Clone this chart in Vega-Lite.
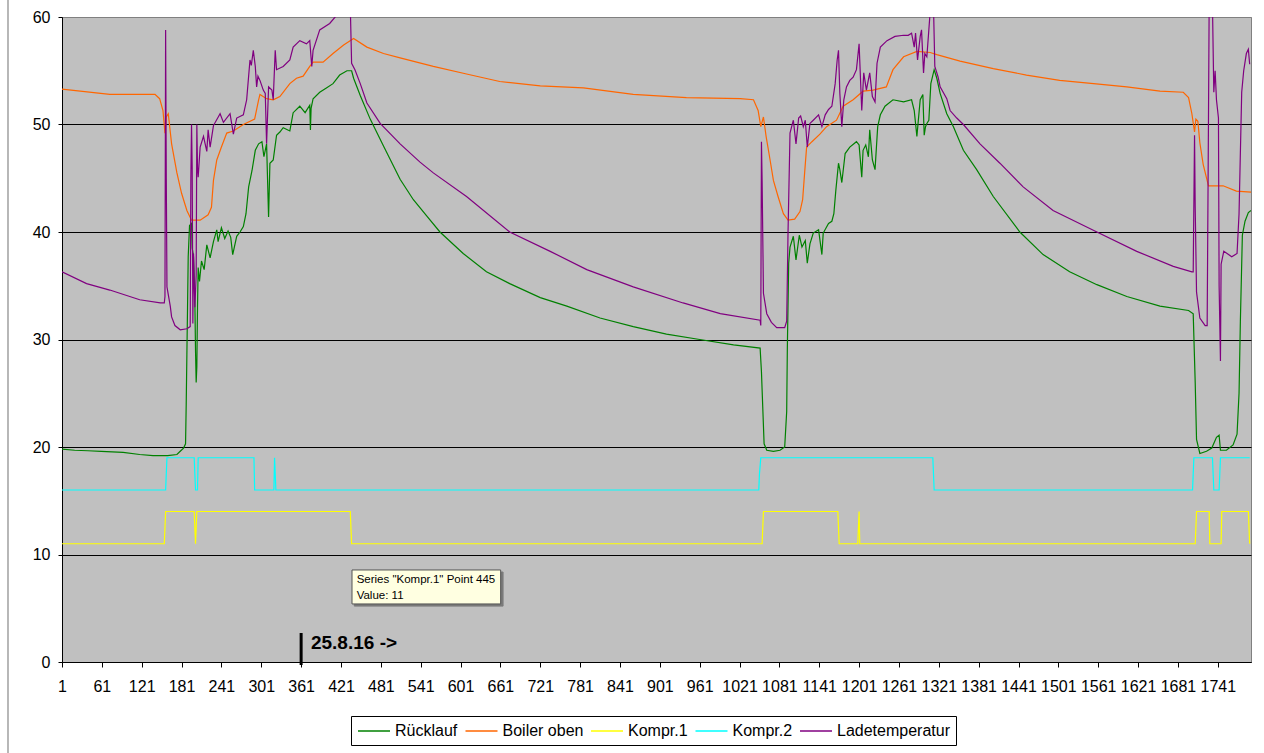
{
"$schema": "https://vega.github.io/schema/vega-lite/v6.json",
"width": 1189, "height": 645,
"autosize": {"type": "none"},
"padding": {"left": 62, "top": 17, "right": 13, "bottom": 91},
"background": "white",
"config": {"view": {"stroke": "#808080", "fill": "#C0C0C0", "strokeWidth": 1}, "font": "Liberation Sans"},
"datasets": {
"series": [
{"s":"Rücklauf","p":1,"v":19.8},{"s":"Rücklauf","p":20,"v":19.7},{"s":"Rücklauf","p":40,"v":19.65},{"s":"Rücklauf","p":60,"v":19.6},{"s":"Rücklauf","p":93,"v":19.5},{"s":"Rücklauf","p":118,"v":19.3},{"s":"Rücklauf","p":138,"v":19.2},{"s":"Rücklauf","p":160,"v":19.2},{"s":"Rücklauf","p":174,"v":19.3},{"s":"Rücklauf","p":179,"v":19.6},{"s":"Rücklauf","p":184,"v":19.9},{"s":"Rücklauf","p":187,"v":20.3},{"s":"Rücklauf","p":188,"v":24},{"s":"Rücklauf","p":189,"v":28.6},{"s":"Rücklauf","p":190,"v":33},{"s":"Rücklauf","p":191,"v":37.7},{"s":"Rücklauf","p":193,"v":40.6},{"s":"Rücklauf","p":196,"v":40.8},{"s":"Rücklauf","p":197,"v":38.5},{"s":"Rücklauf","p":199,"v":37.7},{"s":"Rücklauf","p":201,"v":33.7},{"s":"Rücklauf","p":202,"v":29},{"s":"Rücklauf","p":203,"v":26},{"s":"Rücklauf","p":204,"v":27.5},{"s":"Rücklauf","p":205,"v":33},{"s":"Rücklauf","p":206,"v":36.7},{"s":"Rücklauf","p":208,"v":35.4},{"s":"Rücklauf","p":211,"v":37.3},{"s":"Rücklauf","p":215,"v":36.5},{"s":"Rücklauf","p":219,"v":38.8},{"s":"Rücklauf","p":224,"v":37.6},{"s":"Rücklauf","p":229,"v":39.1},{"s":"Rücklauf","p":234,"v":40.2},{"s":"Rücklauf","p":236,"v":39.1},{"s":"Rücklauf","p":241,"v":40.4},{"s":"Rücklauf","p":246,"v":39.4},{"s":"Rücklauf","p":251,"v":40.1},{"s":"Rücklauf","p":255,"v":39.5},{"s":"Rücklauf","p":258,"v":37.9},{"s":"Rücklauf","p":264,"v":39.6},{"s":"Rücklauf","p":269,"v":40.0},{"s":"Rücklauf","p":274,"v":40.5},{"s":"Rücklauf","p":278,"v":41.7},{"s":"Rücklauf","p":282,"v":44.2},{"s":"Rücklauf","p":287,"v":45.7},{"s":"Rücklauf","p":292,"v":47.6},{"s":"Rücklauf","p":297,"v":48.2},{"s":"Rücklauf","p":302,"v":48.4},{"s":"Rücklauf","p":305,"v":47},{"s":"Rücklauf","p":309,"v":48.2},{"s":"Rücklauf","p":312,"v":41.4},{"s":"Rücklauf","p":314,"v":46.4},{"s":"Rücklauf","p":319,"v":46.7},{"s":"Rücklauf","p":324,"v":49.0},{"s":"Rücklauf","p":329,"v":49.3},{"s":"Rücklauf","p":334,"v":49.7},{"s":"Rücklauf","p":344,"v":49.4},{"s":"Rücklauf","p":349,"v":51.1},{"s":"Rücklauf","p":359,"v":51.7},{"s":"Rücklauf","p":367,"v":51.1},{"s":"Rücklauf","p":374,"v":51.8},{"s":"Rücklauf","p":375,"v":49.5},{"s":"Rücklauf","p":376,"v":51.5},{"s":"Rücklauf","p":379,"v":52.4},{"s":"Rücklauf","p":389,"v":53.0},{"s":"Rücklauf","p":399,"v":53.4},{"s":"Rücklauf","p":409,"v":53.8},{"s":"Rücklauf","p":419,"v":54.6},{"s":"Rücklauf","p":430,"v":55.0},{"s":"Rücklauf","p":437,"v":55.0},{"s":"Rücklauf","p":440,"v":54.3},{"s":"Rücklauf","p":450,"v":52.7},{"s":"Rücklauf","p":465,"v":50.5},{"s":"Rücklauf","p":485,"v":48.0},{"s":"Rücklauf","p":510,"v":44.9},{"s":"Rücklauf","p":530,"v":43.0},{"s":"Rücklauf","p":550,"v":41.5},{"s":"Rücklauf","p":570,"v":40.0},{"s":"Rücklauf","p":605,"v":38.0},{"s":"Rücklauf","p":640,"v":36.3},{"s":"Rücklauf","p":675,"v":35.2},{"s":"Rücklauf","p":721,"v":33.9},{"s":"Rücklauf","p":761,"v":33.1},{"s":"Rücklauf","p":811,"v":32.0},{"s":"Rücklauf","p":861,"v":31.2},{"s":"Rücklauf","p":911,"v":30.5},{"s":"Rücklauf","p":961,"v":30.0},{"s":"Rücklauf","p":1012,"v":29.5},{"s":"Rücklauf","p":1052,"v":29.2},{"s":"Rücklauf","p":1054,"v":27},{"s":"Rücklauf","p":1055,"v":25.3},{"s":"Rücklauf","p":1058,"v":20.3},{"s":"Rücklauf","p":1062,"v":19.7},{"s":"Rücklauf","p":1072,"v":19.6},{"s":"Rücklauf","p":1082,"v":19.7},{"s":"Rücklauf","p":1089,"v":20.0},{"s":"Rücklauf","p":1092,"v":23.3},{"s":"Rücklauf","p":1093,"v":29.3},{"s":"Rücklauf","p":1095,"v":37.1},{"s":"Rücklauf","p":1097,"v":38.6},{"s":"Rücklauf","p":1102,"v":39.6},{"s":"Rücklauf","p":1106,"v":37.4},{"s":"Rücklauf","p":1111,"v":39.7},{"s":"Rücklauf","p":1115,"v":38.6},{"s":"Rücklauf","p":1120,"v":39.2},{"s":"Rücklauf","p":1123,"v":37.1},{"s":"Rücklauf","p":1127,"v":38.9},{"s":"Rücklauf","p":1132,"v":39.9},{"s":"Rücklauf","p":1140,"v":40.2},{"s":"Rücklauf","p":1145,"v":37.9},{"s":"Rücklauf","p":1147,"v":39.9},{"s":"Rücklauf","p":1155,"v":40.8},{"s":"Rücklauf","p":1160,"v":41.0},{"s":"Rücklauf","p":1163,"v":41.7},{"s":"Rücklauf","p":1166,"v":43.9},{"s":"Rücklauf","p":1170,"v":46.4},{"s":"Rücklauf","p":1172,"v":45.8},{"s":"Rücklauf","p":1175,"v":44.6},{"s":"Rücklauf","p":1180,"v":47.3},{"s":"Rücklauf","p":1187,"v":47.9},{"s":"Rücklauf","p":1197,"v":48.4},{"s":"Rücklauf","p":1201,"v":48.1},{"s":"Rücklauf","p":1205,"v":45.1},{"s":"Rücklauf","p":1207,"v":47.6},{"s":"Rücklauf","p":1211,"v":48.1},{"s":"Rücklauf","p":1215,"v":47.0},{"s":"Rücklauf","p":1217,"v":49.5},{"s":"Rücklauf","p":1221,"v":46.7},{"s":"Rücklauf","p":1225,"v":45.8},{"s":"Rücklauf","p":1229,"v":49.8},{"s":"Rücklauf","p":1233,"v":50.9},{"s":"Rücklauf","p":1240,"v":51.7},{"s":"Rücklauf","p":1252,"v":52.3},{"s":"Rücklauf","p":1268,"v":52.1},{"s":"Rücklauf","p":1280,"v":52.3},{"s":"Rücklauf","p":1284,"v":51.3},{"s":"Rücklauf","p":1288,"v":48.9},{"s":"Rücklauf","p":1293,"v":52.3},{"s":"Rücklauf","p":1297,"v":52.8},{"s":"Rücklauf","p":1299,"v":49.0},{"s":"Rücklauf","p":1301,"v":49.8},{"s":"Rücklauf","p":1303,"v":50.1},{"s":"Rücklauf","p":1306,"v":50.4},{"s":"Rücklauf","p":1309,"v":53.8},{"s":"Rücklauf","p":1314,"v":55.1},{"s":"Rücklauf","p":1318,"v":54.3},{"s":"Rücklauf","p":1323,"v":52.9},{"s":"Rücklauf","p":1333,"v":51.0},{"s":"Rücklauf","p":1343,"v":49.8},{"s":"Rücklauf","p":1358,"v":47.6},{"s":"Rücklauf","p":1378,"v":45.8},{"s":"Rücklauf","p":1403,"v":43.3},{"s":"Rücklauf","p":1443,"v":40.0},{"s":"Rücklauf","p":1478,"v":37.9},{"s":"Rücklauf","p":1518,"v":36.3},{"s":"Rücklauf","p":1559,"v":35.1},{"s":"Rücklauf","p":1604,"v":34.0},{"s":"Rücklauf","p":1654,"v":33.1},{"s":"Rücklauf","p":1697,"v":32.7},{"s":"Rücklauf","p":1704,"v":32.4},{"s":"Rücklauf","p":1707,"v":26.0},{"s":"Rücklauf","p":1709,"v":20.7},{"s":"Rücklauf","p":1714,"v":19.4},{"s":"Rücklauf","p":1724,"v":19.6},{"s":"Rücklauf","p":1732,"v":19.9},{"s":"Rücklauf","p":1739,"v":20.9},{"s":"Rücklauf","p":1743,"v":21.1},{"s":"Rücklauf","p":1745,"v":19.7},{"s":"Rücklauf","p":1754,"v":19.7},{"s":"Rücklauf","p":1764,"v":20.2},{"s":"Rücklauf","p":1770,"v":21.2},{"s":"Rücklauf","p":1773,"v":25.0},{"s":"Rücklauf","p":1775,"v":31.7},{"s":"Rücklauf","p":1778,"v":39.7},{"s":"Rücklauf","p":1782,"v":41.0},{"s":"Rücklauf","p":1787,"v":41.8},{"s":"Rücklauf","p":1791,"v":42.0},

{"s":"Boiler oben","p":1,"v":53.3},{"s":"Boiler oben","p":73,"v":52.8},{"s":"Boiler oben","p":141,"v":52.8},{"s":"Boiler oben","p":148,"v":52.4},{"s":"Boiler oben","p":153,"v":51.3},{"s":"Boiler oben","p":156,"v":49.2},{"s":"Boiler oben","p":158,"v":50.7},{"s":"Boiler oben","p":161,"v":51.0},{"s":"Boiler oben","p":166,"v":48.2},{"s":"Boiler oben","p":174,"v":45.5},{"s":"Boiler oben","p":181,"v":43.6},{"s":"Boiler oben","p":189,"v":42.0},{"s":"Boiler oben","p":196,"v":41.1},{"s":"Boiler oben","p":209,"v":41.1},{"s":"Boiler oben","p":221,"v":41.6},{"s":"Boiler oben","p":226,"v":42.3},{"s":"Boiler oben","p":229,"v":44.8},{"s":"Boiler oben","p":234,"v":46.7},{"s":"Boiler oben","p":241,"v":47.9},{"s":"Boiler oben","p":249,"v":49.2},{"s":"Boiler oben","p":259,"v":49.4},{"s":"Boiler oben","p":274,"v":50.0},{"s":"Boiler oben","p":291,"v":50.5},{"s":"Boiler oben","p":297,"v":52.3},{"s":"Boiler oben","p":299,"v":52.8},{"s":"Boiler oben","p":309,"v":52.4},{"s":"Boiler oben","p":319,"v":52.3},{"s":"Boiler oben","p":329,"v":52.6},{"s":"Boiler oben","p":344,"v":53.8},{"s":"Boiler oben","p":354,"v":54.3},{"s":"Boiler oben","p":364,"v":54.5},{"s":"Boiler oben","p":374,"v":55.4},{"s":"Boiler oben","p":379,"v":55.8},{"s":"Boiler oben","p":394,"v":55.8},{"s":"Boiler oben","p":409,"v":56.6},{"s":"Boiler oben","p":425,"v":57.4},{"s":"Boiler oben","p":440,"v":58.0},{"s":"Boiler oben","p":460,"v":57.2},{"s":"Boiler oben","p":485,"v":56.6},{"s":"Boiler oben","p":510,"v":56.2},{"s":"Boiler oben","p":560,"v":55.4},{"s":"Boiler oben","p":610,"v":54.7},{"s":"Boiler oben","p":660,"v":54.0},{"s":"Boiler oben","p":721,"v":53.6},{"s":"Boiler oben","p":786,"v":53.4},{"s":"Boiler oben","p":861,"v":52.8},{"s":"Boiler oben","p":941,"v":52.5},{"s":"Boiler oben","p":1022,"v":52.4},{"s":"Boiler oben","p":1042,"v":52.3},{"s":"Boiler oben","p":1049,"v":51.3},{"s":"Boiler oben","p":1053,"v":49.8},{"s":"Boiler oben","p":1057,"v":50.7},{"s":"Boiler oben","p":1061,"v":48.9},{"s":"Boiler oben","p":1067,"v":46.7},{"s":"Boiler oben","p":1072,"v":44.8},{"s":"Boiler oben","p":1079,"v":43.3},{"s":"Boiler oben","p":1087,"v":41.7},{"s":"Boiler oben","p":1094,"v":41.1},{"s":"Boiler oben","p":1104,"v":41.2},{"s":"Boiler oben","p":1112,"v":41.9},{"s":"Boiler oben","p":1116,"v":43.0},{"s":"Boiler oben","p":1119,"v":45.5},{"s":"Boiler oben","p":1122,"v":47.9},{"s":"Boiler oben","p":1130,"v":48.4},{"s":"Boiler oben","p":1142,"v":49.1},{"s":"Boiler oben","p":1152,"v":49.8},{"s":"Boiler oben","p":1167,"v":50.4},{"s":"Boiler oben","p":1177,"v":51.7},{"s":"Boiler oben","p":1192,"v":52.3},{"s":"Boiler oben","p":1207,"v":53.1},{"s":"Boiler oben","p":1222,"v":53.2},{"s":"Boiler oben","p":1242,"v":53.5},{"s":"Boiler oben","p":1252,"v":55.1},{"s":"Boiler oben","p":1268,"v":56.3},{"s":"Boiler oben","p":1288,"v":56.8},{"s":"Boiler oben","p":1308,"v":56.7},{"s":"Boiler oben","p":1318,"v":56.5},{"s":"Boiler oben","p":1353,"v":55.9},{"s":"Boiler oben","p":1403,"v":55.2},{"s":"Boiler oben","p":1453,"v":54.6},{"s":"Boiler oben","p":1503,"v":54.1},{"s":"Boiler oben","p":1554,"v":53.8},{"s":"Boiler oben","p":1604,"v":53.5},{"s":"Boiler oben","p":1654,"v":53.1},{"s":"Boiler oben","p":1689,"v":53.0},{"s":"Boiler oben","p":1697,"v":52.5},{"s":"Boiler oben","p":1702,"v":51.0},{"s":"Boiler oben","p":1706,"v":49.3},{"s":"Boiler oben","p":1708,"v":50.5},{"s":"Boiler oben","p":1711,"v":50.3},{"s":"Boiler oben","p":1714,"v":48.3},{"s":"Boiler oben","p":1719,"v":46.3},{"s":"Boiler oben","p":1727,"v":44.3},{"s":"Boiler oben","p":1739,"v":44.3},{"s":"Boiler oben","p":1749,"v":44.3},{"s":"Boiler oben","p":1769,"v":43.8},{"s":"Boiler oben","p":1791,"v":43.7},

{"s":"Kompr.1","p":1,"v":11},{"s":"Kompr.1","p":155,"v":11},{"s":"Kompr.1","p":156,"v":12.5},{"s":"Kompr.1","p":157,"v":14},{"s":"Kompr.1","p":200,"v":14},{"s":"Kompr.1","p":201,"v":12.5},{"s":"Kompr.1","p":202,"v":11},{"s":"Kompr.1","p":203,"v":12.5},{"s":"Kompr.1","p":204,"v":14},{"s":"Kompr.1","p":435,"v":14},{"s":"Kompr.1","p":436,"v":12.5},{"s":"Kompr.1","p":437,"v":11},{"s":"Kompr.1","p":1055,"v":11},{"s":"Kompr.1","p":1056,"v":12.5},{"s":"Kompr.1","p":1057,"v":14},{"s":"Kompr.1","p":1169,"v":14},{"s":"Kompr.1","p":1170,"v":12.5},{"s":"Kompr.1","p":1171,"v":11},{"s":"Kompr.1","p":1199,"v":11},{"s":"Kompr.1","p":1200,"v":12.5},{"s":"Kompr.1","p":1201,"v":14},{"s":"Kompr.1","p":1202,"v":11},{"s":"Kompr.1","p":1707,"v":11},{"s":"Kompr.1","p":1708,"v":12.5},{"s":"Kompr.1","p":1709,"v":14},{"s":"Kompr.1","p":1728,"v":14},{"s":"Kompr.1","p":1729,"v":11},{"s":"Kompr.1","p":1746,"v":11},{"s":"Kompr.1","p":1747,"v":14},{"s":"Kompr.1","p":1787,"v":14},{"s":"Kompr.1","p":1788,"v":12.5},{"s":"Kompr.1","p":1789,"v":11},

{"s":"Kompr.2","p":1,"v":16},{"s":"Kompr.2","p":157,"v":16},{"s":"Kompr.2","p":158,"v":17.5},{"s":"Kompr.2","p":159,"v":19},{"s":"Kompr.2","p":200,"v":19},{"s":"Kompr.2","p":201,"v":17.5},{"s":"Kompr.2","p":202,"v":16},{"s":"Kompr.2","p":205,"v":16},{"s":"Kompr.2","p":206,"v":19},{"s":"Kompr.2","p":290,"v":19},{"s":"Kompr.2","p":291,"v":16},{"s":"Kompr.2","p":320,"v":16},{"s":"Kompr.2","p":321,"v":19},{"s":"Kompr.2","p":322,"v":17.5},{"s":"Kompr.2","p":323,"v":16},{"s":"Kompr.2","p":1050,"v":16},{"s":"Kompr.2","p":1051,"v":17.5},{"s":"Kompr.2","p":1053,"v":19},{"s":"Kompr.2","p":1312,"v":19},{"s":"Kompr.2","p":1313,"v":17.5},{"s":"Kompr.2","p":1314,"v":16},{"s":"Kompr.2","p":1703,"v":16},{"s":"Kompr.2","p":1704,"v":17.5},{"s":"Kompr.2","p":1705,"v":19},{"s":"Kompr.2","p":1733,"v":19},{"s":"Kompr.2","p":1734,"v":17.5},{"s":"Kompr.2","p":1735,"v":16},{"s":"Kompr.2","p":1743,"v":16},{"s":"Kompr.2","p":1744,"v":17.5},{"s":"Kompr.2","p":1745,"v":19},{"s":"Kompr.2","p":1789,"v":19},

{"s":"Ladetemperatur","p":1,"v":36.3},{"s":"Ladetemperatur","p":38,"v":35.2},{"s":"Ladetemperatur","p":73,"v":34.6},{"s":"Ladetemperatur","p":118,"v":33.7},{"s":"Ladetemperatur","p":149,"v":33.4},{"s":"Ladetemperatur","p":155,"v":33.4},{"s":"Ladetemperatur","p":156,"v":34.0},{"s":"Ladetemperatur","p":157,"v":58.8},{"s":"Ladetemperatur","p":158,"v":45},{"s":"Ladetemperatur","p":159,"v":34.9},{"s":"Ladetemperatur","p":164,"v":33.1},{"s":"Ladetemperatur","p":166,"v":32.1},{"s":"Ladetemperatur","p":171,"v":31.3},{"s":"Ladetemperatur","p":179,"v":30.9},{"s":"Ladetemperatur","p":189,"v":31.0},{"s":"Ladetemperatur","p":194,"v":31.2},{"s":"Ladetemperatur","p":195,"v":45},{"s":"Ladetemperatur","p":196,"v":50},{"s":"Ladetemperatur","p":197,"v":46},{"s":"Ladetemperatur","p":198,"v":31.5},{"s":"Ladetemperatur","p":199,"v":38},{"s":"Ladetemperatur","p":201,"v":33},{"s":"Ladetemperatur","p":203,"v":36},{"s":"Ladetemperatur","p":204,"v":50},{"s":"Ladetemperatur","p":205,"v":46},{"s":"Ladetemperatur","p":206,"v":45.1},{"s":"Ladetemperatur","p":209,"v":47.9},{"s":"Ladetemperatur","p":214,"v":48.9},{"s":"Ladetemperatur","p":219,"v":47.5},{"s":"Ladetemperatur","p":221,"v":49.5},{"s":"Ladetemperatur","p":224,"v":47.9},{"s":"Ladetemperatur","p":229,"v":49.9},{"s":"Ladetemperatur","p":239,"v":51.0},{"s":"Ladetemperatur","p":244,"v":50.2},{"s":"Ladetemperatur","p":254,"v":51.0},{"s":"Ladetemperatur","p":259,"v":49.1},{"s":"Ladetemperatur","p":264,"v":50.6},{"s":"Ladetemperatur","p":274,"v":50.9},{"s":"Ladetemperatur","p":279,"v":52.3},{"s":"Ladetemperatur","p":284,"v":56.0},{"s":"Ladetemperatur","p":286,"v":55.5},{"s":"Ladetemperatur","p":289,"v":56.9},{"s":"Ladetemperatur","p":292,"v":55.4},{"s":"Ladetemperatur","p":294,"v":53.5},{"s":"Ladetemperatur","p":296,"v":54.5},{"s":"Ladetemperatur","p":299,"v":54.1},{"s":"Ladetemperatur","p":304,"v":53.2},{"s":"Ladetemperatur","p":307,"v":52.9},{"s":"Ladetemperatur","p":309,"v":48.2},{"s":"Ladetemperatur","p":312,"v":53.5},{"s":"Ladetemperatur","p":317,"v":53.2},{"s":"Ladetemperatur","p":319,"v":52.3},{"s":"Ladetemperatur","p":322,"v":56.9},{"s":"Ladetemperatur","p":324,"v":55.1},{"s":"Ladetemperatur","p":334,"v":55.4},{"s":"Ladetemperatur","p":344,"v":56.0},{"s":"Ladetemperatur","p":349,"v":57.2},{"s":"Ladetemperatur","p":359,"v":57.8},{"s":"Ladetemperatur","p":369,"v":57.5},{"s":"Ladetemperatur","p":374,"v":57.8},{"s":"Ladetemperatur","p":377,"v":55.4},{"s":"Ladetemperatur","p":379,"v":56.9},{"s":"Ladetemperatur","p":389,"v":58.8},{"s":"Ladetemperatur","p":404,"v":59.4},{"s":"Ladetemperatur","p":415,"v":60.2},{"s":"Ladetemperatur","p":425,"v":61},{"s":"Ladetemperatur","p":435,"v":61},{"s":"Ladetemperatur","p":437,"v":55.7},{"s":"Ladetemperatur","p":442,"v":55.1},{"s":"Ladetemperatur","p":450,"v":53.8},{"s":"Ladetemperatur","p":460,"v":52.0},{"s":"Ladetemperatur","p":480,"v":50.1},{"s":"Ladetemperatur","p":510,"v":48.2},{"s":"Ladetemperatur","p":540,"v":46.5},{"s":"Ladetemperatur","p":560,"v":45.5},{"s":"Ladetemperatur","p":610,"v":43.3},{"s":"Ladetemperatur","p":675,"v":40.0},{"s":"Ladetemperatur","p":736,"v":38.2},{"s":"Ladetemperatur","p":791,"v":36.5},{"s":"Ladetemperatur","p":861,"v":34.9},{"s":"Ladetemperatur","p":936,"v":33.4},{"s":"Ladetemperatur","p":992,"v":32.4},{"s":"Ladetemperatur","p":1052,"v":31.8},{"s":"Ladetemperatur","p":1053,"v":31.3},{"s":"Ladetemperatur","p":1054,"v":48.4},{"s":"Ladetemperatur","p":1055,"v":44.8},{"s":"Ladetemperatur","p":1057,"v":34.3},{"s":"Ladetemperatur","p":1062,"v":32.4},{"s":"Ladetemperatur","p":1069,"v":31.6},{"s":"Ladetemperatur","p":1077,"v":31.1},{"s":"Ladetemperatur","p":1089,"v":31.1},{"s":"Ladetemperatur","p":1092,"v":31.7},{"s":"Ladetemperatur","p":1094,"v":39.9},{"s":"Ladetemperatur","p":1097,"v":49.2},{"s":"Ladetemperatur","p":1102,"v":50.4},{"s":"Ladetemperatur","p":1106,"v":48.2},{"s":"Ladetemperatur","p":1110,"v":50.6},{"s":"Ladetemperatur","p":1113,"v":50.8},{"s":"Ladetemperatur","p":1117,"v":49.8},{"s":"Ladetemperatur","p":1120,"v":50.4},{"s":"Ladetemperatur","p":1123,"v":47.9},{"s":"Ladetemperatur","p":1127,"v":50.1},{"s":"Ladetemperatur","p":1132,"v":50.4},{"s":"Ladetemperatur","p":1140,"v":50.9},{"s":"Ladetemperatur","p":1145,"v":49.8},{"s":"Ladetemperatur","p":1150,"v":50.9},{"s":"Ladetemperatur","p":1155,"v":51.4},{"s":"Ladetemperatur","p":1160,"v":51.7},{"s":"Ladetemperatur","p":1165,"v":53.8},{"s":"Ladetemperatur","p":1168,"v":56.0},{"s":"Ladetemperatur","p":1170,"v":56.9},{"s":"Ladetemperatur","p":1172,"v":52.9},{"s":"Ladetemperatur","p":1175,"v":49.8},{"s":"Ladetemperatur","p":1178,"v":52.3},{"s":"Ladetemperatur","p":1182,"v":53.5},{"s":"Ladetemperatur","p":1187,"v":54.1},{"s":"Ladetemperatur","p":1192,"v":54.4},{"s":"Ladetemperatur","p":1197,"v":55.1},{"s":"Ladetemperatur","p":1201,"v":57.5},{"s":"Ladetemperatur","p":1205,"v":51.3},{"s":"Ladetemperatur","p":1208,"v":54.8},{"s":"Ladetemperatur","p":1212,"v":53.2},{"s":"Ladetemperatur","p":1217,"v":54.8},{"s":"Ladetemperatur","p":1221,"v":52.6},{"s":"Ladetemperatur","p":1225,"v":52.1},{"s":"Ladetemperatur","p":1228,"v":55.7},{"s":"Ladetemperatur","p":1233,"v":57.2},{"s":"Ladetemperatur","p":1243,"v":57.8},{"s":"Ladetemperatur","p":1255,"v":58.2},{"s":"Ladetemperatur","p":1268,"v":58.3},{"s":"Ladetemperatur","p":1275,"v":58.3},{"s":"Ladetemperatur","p":1280,"v":58.5},{"s":"Ladetemperatur","p":1284,"v":57.2},{"s":"Ladetemperatur","p":1286,"v":58.5},{"s":"Ladetemperatur","p":1289,"v":56.0},{"s":"Ladetemperatur","p":1293,"v":58.2},{"s":"Ladetemperatur","p":1295,"v":58.8},{"s":"Ladetemperatur","p":1298,"v":54.8},{"s":"Ladetemperatur","p":1300,"v":56.6},{"s":"Ladetemperatur","p":1303,"v":56.3},{"s":"Ladetemperatur","p":1306,"v":58.8},{"s":"Ladetemperatur","p":1308,"v":60.5},{"s":"Ladetemperatur","p":1313,"v":61},{"s":"Ladetemperatur","p":1315,"v":55.4},{"s":"Ladetemperatur","p":1320,"v":54.4},{"s":"Ladetemperatur","p":1323,"v":53.5},{"s":"Ladetemperatur","p":1333,"v":52.4},{"s":"Ladetemperatur","p":1338,"v":51.3},{"s":"Ladetemperatur","p":1348,"v":50.6},{"s":"Ladetemperatur","p":1358,"v":50.0},{"s":"Ladetemperatur","p":1383,"v":48.2},{"s":"Ladetemperatur","p":1413,"v":46.4},{"s":"Ladetemperatur","p":1448,"v":44.2},{"s":"Ladetemperatur","p":1493,"v":42.0},{"s":"Ladetemperatur","p":1559,"v":40.0},{"s":"Ladetemperatur","p":1619,"v":38.2},{"s":"Ladetemperatur","p":1674,"v":36.8},{"s":"Ladetemperatur","p":1702,"v":36.3},{"s":"Ladetemperatur","p":1704,"v":36.3},{"s":"Ladetemperatur","p":1706,"v":49.0},{"s":"Ladetemperatur","p":1707,"v":42.3},{"s":"Ladetemperatur","p":1709,"v":34.4},{"s":"Ladetemperatur","p":1714,"v":32.0},{"s":"Ladetemperatur","p":1722,"v":31.3},{"s":"Ladetemperatur","p":1725,"v":31.3},{"s":"Ladetemperatur","p":1727,"v":50.6},{"s":"Ladetemperatur","p":1728,"v":61},{"s":"Ladetemperatur","p":1733,"v":61},{"s":"Ladetemperatur","p":1735,"v":53.0},{"s":"Ladetemperatur","p":1737,"v":55},{"s":"Ladetemperatur","p":1739,"v":52.3},{"s":"Ladetemperatur","p":1742,"v":50.6},{"s":"Ladetemperatur","p":1743,"v":35.0},{"s":"Ladetemperatur","p":1745,"v":28.0},{"s":"Ladetemperatur","p":1746,"v":37.0},{"s":"Ladetemperatur","p":1750,"v":38.2},{"s":"Ladetemperatur","p":1755,"v":38.0},{"s":"Ladetemperatur","p":1762,"v":37.7},{"s":"Ladetemperatur","p":1770,"v":38.0},{"s":"Ladetemperatur","p":1773,"v":41.7},{"s":"Ladetemperatur","p":1777,"v":53.0},{"s":"Ladetemperatur","p":1780,"v":55.0},{"s":"Ladetemperatur","p":1784,"v":56.6},{"s":"Ladetemperatur","p":1787,"v":57.0},{"s":"Ladetemperatur","p":1789,"v":55.6}
],
"boxes": [
{"kind":"shadow","x1":441,"x2":665,"y1":5.2,"y2":8.37},
{"kind":"box","x1":437.6,"x2":661.4,"y1":5.4,"y2":8.56}
],
"notes": [
{"x":444.6,"y":7.32,"t":"Series \"Kompr.1\" Point 445"},
{"x":444.6,"y":5.83,"t":"Value: 11"}
],
"marker": [{"x":361,"y1":-0.28,"y2":2.7,"x0":375.8,"yt":1.21,"t":"25.8.16 ->"}],
"edge": [{"x":-80.3,"y1":-8.5,"y2":61.6}]
},
"layer": [
{
"data": {"name": "series"},
"mark": {"type": "line", "strokeWidth": 1.2, "clip": true},
"encoding": {
"x": {"field": "p", "type": "quantitative",
"scale": {"domain": [1, 1791], "nice": false, "zero": false},
"axis": {"title": null, "grid": false,
"values": [1,31,61,91,121,151,181,211,241,271,301,331,361,391,421,451,481,511,541,571,601,631,661,691,721,751,781,811,841,871,901,931,961,991,1021,1051,1081,1111,1141,1171,1201,1231,1261,1291,1321,1351,1381,1411,1441,1471,1501,1531,1561,1591,1621,1651,1681,1711,1741,1771],
"format": "d",
"labelExpr": "(datum.value-1)%60==0 ? datum.label : ''",
"labelOverlap": false, "labelFlush": false, "labelBound": false,
"domainColor": "black", "tickColor": "black", "tickSize": 5,
"labelFont": "Liberation Sans", "labelFontSize": 16, "labelColor": "black", "labelPadding": 11}},
"y": {"field": "v", "type": "quantitative",
"scale": {"domain": [0, 60], "nice": false, "zero": true},
"axis": {"title": null, "values": [0,10,20,30,40,50,60], "grid": true,
"gridColor": {"condition": {"test": "datum.value === 60", "value": "#808080"}, "value": "black"},
"gridOpacity": 1, "gridWidth": 1,
"domainColor": "black", "tickColor": "black", "tickSize": 4,
"labelFont": "Liberation Sans", "labelFontSize": 16, "labelColor": "black", "labelPadding": 8}},
"color": {"field": "s", "type": "nominal",
"scale": {"domain": ["Rücklauf","Boiler oben","Kompr.1","Kompr.2","Ladetemperatur"],
"range": ["#008000","#FF6600","#FFFF00","#00FFFF","#800080"]},
"legend": {"title": null, "orient": "none", "legendX": 289, "legendY": 699,
"direction": "horizontal", "columns": 5,
"symbolType": "M-1,0H3", "symbolSize": 256, "symbolStrokeWidth": 1.5,
"labelFont": "Liberation Sans", "labelFontSize": 16, "labelColor": "black",
"labelOffset": 20, "columnPadding": 4.5, "padding": 6,
"strokeColor": "black", "fillColor": "white"}}
}
},
{
"data": {"name": "boxes"},
"mark": {"type": "rect", "clip": false},
"encoding": {
"x": {"field": "x1", "type": "quantitative"},
"x2": {"field": "x2"},
"y": {"field": "y1", "type": "quantitative"},
"y2": {"field": "y2"},
"fill": {"field": "kind", "type": "nominal", "scale": {"domain": ["shadow","box"], "range": ["#7a7a7a","#FFFFE1"]}, "legend": null},
"stroke": {"field": "kind", "type": "nominal", "scale": {"domain": ["shadow","box"], "range": ["#7a7a7a","#555555"]}, "legend": null},
"strokeWidth": {"value": 1}
}
},
{
"data": {"name": "notes"},
"mark": {"type": "text", "align": "left", "baseline": "alphabetic", "font": "Liberation Sans", "fontSize": 11.5, "color": "black"},
"encoding": {
"x": {"field": "x", "type": "quantitative"},
"y": {"field": "y", "type": "quantitative"},
"text": {"field": "t"}
}
},
{
"data": {"name": "marker"},
"mark": {"type": "rule", "color": "black", "strokeWidth": 3, "clip": false},
"encoding": {
"x": {"field": "x", "type": "quantitative"},
"y": {"field": "y1", "type": "quantitative"},
"y2": {"field": "y2"}
}
},
{
"data": {"name": "marker"},
"mark": {"type": "text", "align": "left", "baseline": "alphabetic", "font": "Liberation Sans", "fontSize": 19, "fontWeight": "bold", "color": "black"},
"encoding": {
"x": {"field": "x0", "type": "quantitative"},
"y": {"field": "yt", "type": "quantitative"},
"text": {"field": "t"}
}
},
{
"data": {"name": "edge"},
"mark": {"type": "rule", "color": "#a0a0a0", "strokeWidth": 1.5, "clip": false},
"encoding": {
"x": {"field": "x", "type": "quantitative"},
"y": {"field": "y1", "type": "quantitative"},
"y2": {"field": "y2"}
}
}
]
}
